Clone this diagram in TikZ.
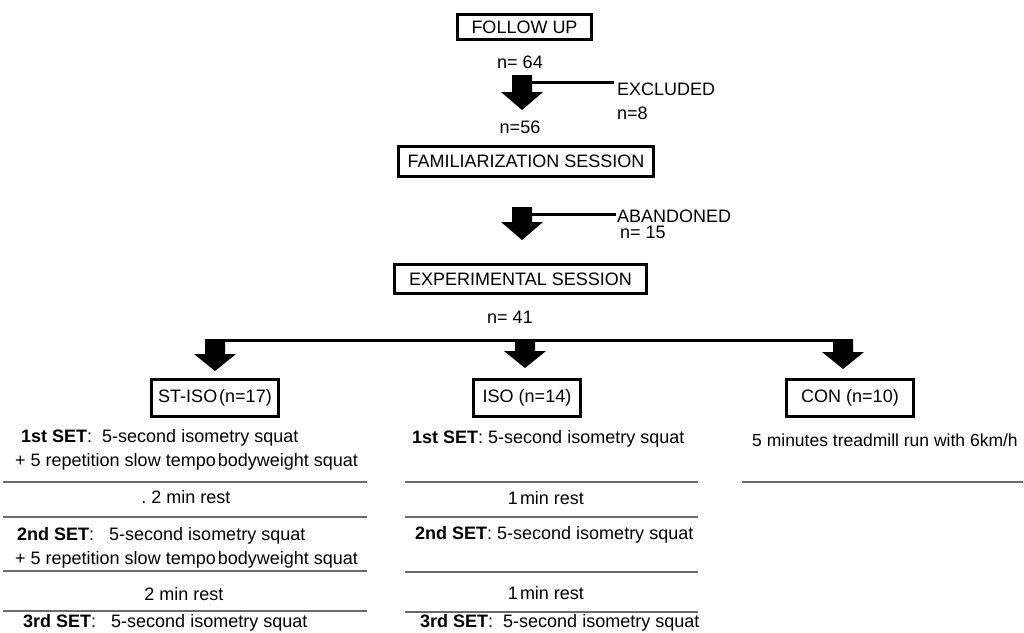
\documentclass[tikz,border=0pt]{standalone}
\usepackage{fontspec}
\setmainfont{Liberation Sans}
\usetikzlibrary{calc}
\newcommand\blockarrow[3]{% top, tip, head length
  \fill ($(#1)+(-10,0)$) -- ($(#1)+(10,0)$) -- ($(#2)+(10,-#3)$) -- ($(#2)+(21,-#3)$)
    -- (#2) -- ($(#2)+(-21,-#3)$) -- ($(#2)+(-10,-#3)$) -- cycle;}
\begin{document}
\begin{tikzpicture}[x=1pt,y=-1pt,
  every node/.style={font=\fontsize{18}{21}\selectfont, inner sep=0pt},
  box/.style={draw, line width=3pt, align=center},
  thickline/.style={line width=3pt},
  sepline/.style={line width=1.4pt, draw=black!58},
  lbl/.style={anchor=base west},
  ctr/.style={anchor=base}]
\useasboundingbox (0,0) rectangle (1024,632);
\fill[white] (0,0) rectangle (1024,632);

% top flow
\node[box, minimum width=134pt, minimum height=25pt] (follow) at (524.5,27) {FOLLOW UP};
\node[ctr] (n64) at (520,68) {n= 64};
\coordinate (a1s) at (522,75);
\coordinate (a1e) at (522,110);
\blockarrow{a1s}{a1e}{18}
\coordinate (ex1) at (530,82);
\coordinate (ex2) at (614,82);
\draw[thickline] (ex1) -- (ex2);
\node[lbl] (excl) at (617,95) {EXCLUDED};
\node[lbl] (n8) at (617,119) {n=8};
\node[ctr] (n56) at (520,133) {n=56};

\node[box, minimum width=255pt, minimum height=30pt] (fam) at (526,161.5) {FAMILIARIZATION SESSION};
\coordinate (a2s) at (522,207);
\coordinate (a2e) at (522,240);
\blockarrow{a2s}{a2e}{18}
\coordinate (ab1) at (530,214);
\coordinate (ab2) at (616,214);
\draw[thickline] (ab1) -- (ab2);
\node[lbl] (aband) at (617,222) {ABANDONED};
\node[lbl] (n15) at (620,238) {n= 15};

\node[box, minimum width=252pt, minimum height=29pt] (exp) at (520.5,279) {EXPERIMENTAL SESSION};
\node[ctr] (n41) at (510,323) {n= 41};

% split line and group arrows
\coordinate (sl) at (205,340);
\coordinate (sr) at (853,340);
\draw[thickline] (sl) -- (sr);
\coordinate (g1s) at (215,340); \coordinate (g1e) at (215,371);
\coordinate (g2s) at (525,340); \coordinate (g2e) at (525,368);
\coordinate (g3s) at (843,340); \coordinate (g3e) at (843,369);
\blockarrow{g1s}{g1e}{17}
\blockarrow{g2s}{g2e}{17}
\blockarrow{g3s}{g3e}{17}

\node[box, minimum width=127pt, minimum height=37pt] (stiso) at (215,398) {ST-ISO\hspace{2pt}(n=17)};
\node[box, minimum width=107pt, minimum height=37pt] (iso) at (527,398) {ISO (n=14)};
\node[box, minimum width=127pt, minimum height=37pt] (con) at (850,398) {CON (n=10)};

% left column
\node[lbl] (l1a) at (21,442) {\textbf{1st SET}:\ \ 5-second isometry squat};
\node[lbl] (l1b) at (15,466) {+ 5 repetition slow tempo\hspace{2pt}bodyweight squat};
\draw[sepline] (3,482) -- (367,482);
\node[ctr] (l2) at (186,503) {.\ 2 min rest};
\draw[sepline] (3,517) -- (367,517);
\node[lbl] (l3a) at (17,540) {\textbf{2nd SET}:\ \ \ 5-second isometry squat};
\node[lbl] (l3b) at (15,564) {+ 5 repetition slow tempo\hspace{2pt}bodyweight squat};
\draw[sepline] (3,571) -- (367,571);
\node[ctr] (l4) at (184,600) {2 min rest};
\draw[sepline] (3,611) -- (367,611);
\node[lbl] (l5) at (23,627) {\textbf{3rd SET}:\ \ \ 5-second isometry squat};

% middle column
\node[lbl] (m1) at (412,443) {\textbf{1st SET}:\ 5-second isometry squat};
\draw[sepline] (405,482) -- (698,482);
\node[ctr] (m2) at (546,504) {1\hspace{2pt}min rest};
\draw[sepline] (405,517) -- (698,517);
\node[lbl] (m3) at (415,539) {\textbf{2nd SET}:\ 5-second isometry squat};
\draw[sepline] (405,572) -- (698,572);
\node[ctr] (m4) at (546,599) {1\hspace{2pt}min rest};
\draw[sepline] (405,612) -- (698,612);
\node[lbl] (m5) at (420,627) {\textbf{3rd SET}:\ \ 5-second isometry squat};

% right column
\node[lbl, font=\fontsize{17.5}{21}\selectfont] (r1) at (752,446) {5 minutes treadmill run with 6km/h};
\draw[sepline] (742,482) -- (1023,482);
\end{tikzpicture}
\end{document}
